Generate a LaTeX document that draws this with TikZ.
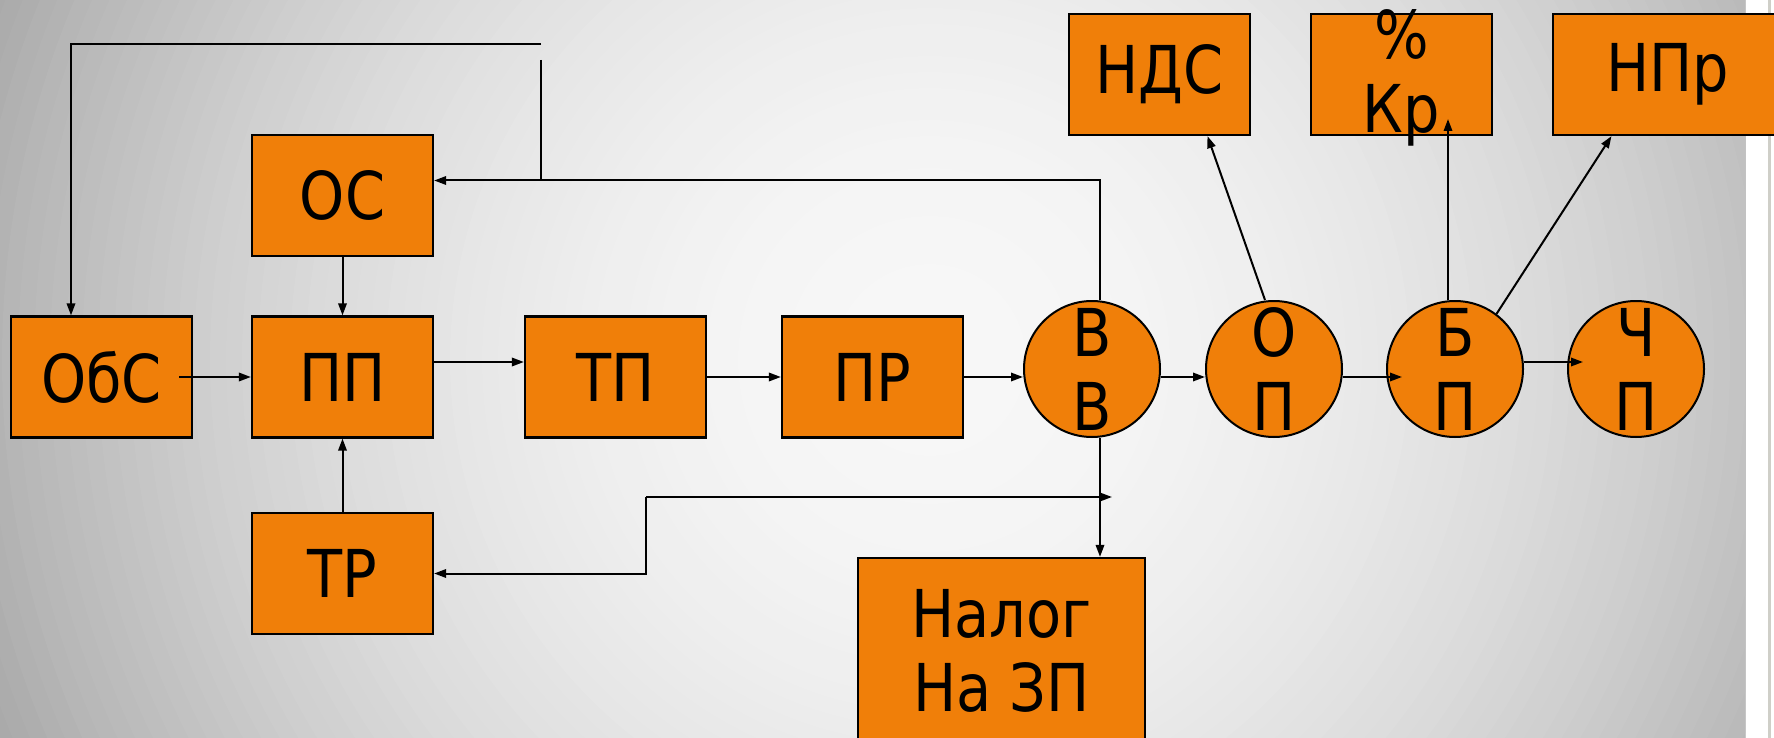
\documentclass[tikz,border=0pt]{standalone}
\usepackage{fontspec}
\setmainfont{DejaVu Sans}[FakeStretch=0.87]
\usetikzlibrary{arrows.meta}

\definecolor{boxO}{HTML}{F07F09}
\definecolor{stripG}{HTML}{CFCFC8}

\newcommand{\bigfont}{\fontsize{33}{37}\selectfont}

\tikzset{
  box/.style={draw=black, line width=1.1pt, fill=boxO, minimum width=90.5pt, minimum height=60.5pt, inner sep=0pt, font=\bigfont},
  ring/.style={draw=black, line width=1pt, fill=boxO, circle, minimum size=68pt, inner sep=0pt},
  txt/.style={align=center, inner sep=0pt, font=\bigfont},
  arr/.style={line width=1pt, -{Triangle[length=6pt,width=4.2pt]}},
}

\begin{document}
\begin{tikzpicture}[x=0.5pt, y=-0.5pt]
    % background
    \useasboundingbox (0,0) rectangle (1774,738);
    \fill[white] (0,0) rectangle (1774,738);
    \begin{scope}
      \clip (0,0) rectangle (1745,738);
      \foreach \k in {64,...,1} {
        \pgfmathsetmacro{\gv}{3+30*(\k*16/1000)^2}
        \fill[black!\gv] (930,360) circle[radius=\k*8pt];
      }
    \end{scope}
    \draw[stripG, line width=1.5pt] (1769,0) -- (1769,738);

    % boxes
    \node[box] (obs) at (101.5,377) {ОбС};
    \node[box] (pp) at (342.5,377) {ПП};
    \node[box] (os) at (342.5,195.5) {ОС};
    \node[box] (tr) at (342.5,573.5) {ТР};
    \node[box] (tp) at (615.5,377) {ТП};
    \node[box] (pr) at (872.5,377) {ПР};
    \node[box] (nds) at (1159.5,74.5) {НДС};
    \node[box] (kr) at (1401.5,74.5) {};
    \node[txt] at ([yshift=-1.5pt]kr) {\%\\Кр};
    \node[box, minimum width=114.5pt] (npr) at (1667.5,74.5) {НПр};
    \node[box, minimum width=143.5pt, minimum height=93pt] (nalog) at (1001.5,651) {};
    \node[txt] at (nalog) {Налог\\На ЗП};

    % circles
    \node[ring] (vv) at (1092,369) {};
    \node[txt] at (vv) {В\\В};
    \node[ring] (op) at (1274,369) {};
    \node[txt] at (op) {О\\П};
    \node[ring] (bp) at (1455,369) {};
    \node[txt] at (bp) {Б\\П};
    \node[ring] (chp) at (1636,369) {};
    \node[txt] at (chp) {Ч\\П};

    % feedback loops
    \coordinate (fbR) at (541,44);
    \coordinate (fbS) at (541,60);
    \coordinate (fbJ) at (541,180);
    \draw[arr] (fbR) -| ([xshift=-15.25pt]obs.north);
    \draw[line width=1pt] (fbS) -- (fbJ);
    \draw[arr] ([xshift=4pt]vv.north) |- ([yshift=7.5pt]os.east);
    \coordinate (trK) at (646,497);
    \coordinate (trE) at (1112,497);
    \draw[arr] (trK) -- (trE);
    \draw[arr] (trK) |- (tr.east);

    % main chain
    \draw[arr] ([xshift=-7pt]obs.east) -- (pp.west);
    \draw[arr] (os.south) -- (pp.north);
    \draw[arr] (tr.north) -- (pp.south);
    \draw[arr] ([yshift=7.5pt]pp.east) -- ([yshift=7.5pt]tp.west);
    \draw[arr] (tp.east) -- (pr.west);
    \draw[arr] (pr.east) -- (pr.east -| vv.west);
    \draw[arr] ([yshift=-4pt]vv.east) -- ([yshift=-4pt]op.west);
    \draw[arr] ([yshift=-4pt]op.east) -- ([xshift=8pt,yshift=-4pt]bp.west);
    \draw[arr] ([yshift=3.5pt]bp.east) -- ([xshift=8pt,yshift=3.5pt]chp.west);
    \draw[arr] ([xshift=4pt]vv.south) -- ([xshift=4pt]vv.south |- nalog.north);

    % outputs
    \draw[arr] ([xshift=-4.5pt]op.north) -- ([xshift=24pt]nds.south);
    \draw[arr] ([xshift=-3.5pt]bp.north) -- ++(0,-181);
    \draw[arr] (bp.53) -- ([xshift=-28pt]npr.south);
\end{tikzpicture}
\end{document}
